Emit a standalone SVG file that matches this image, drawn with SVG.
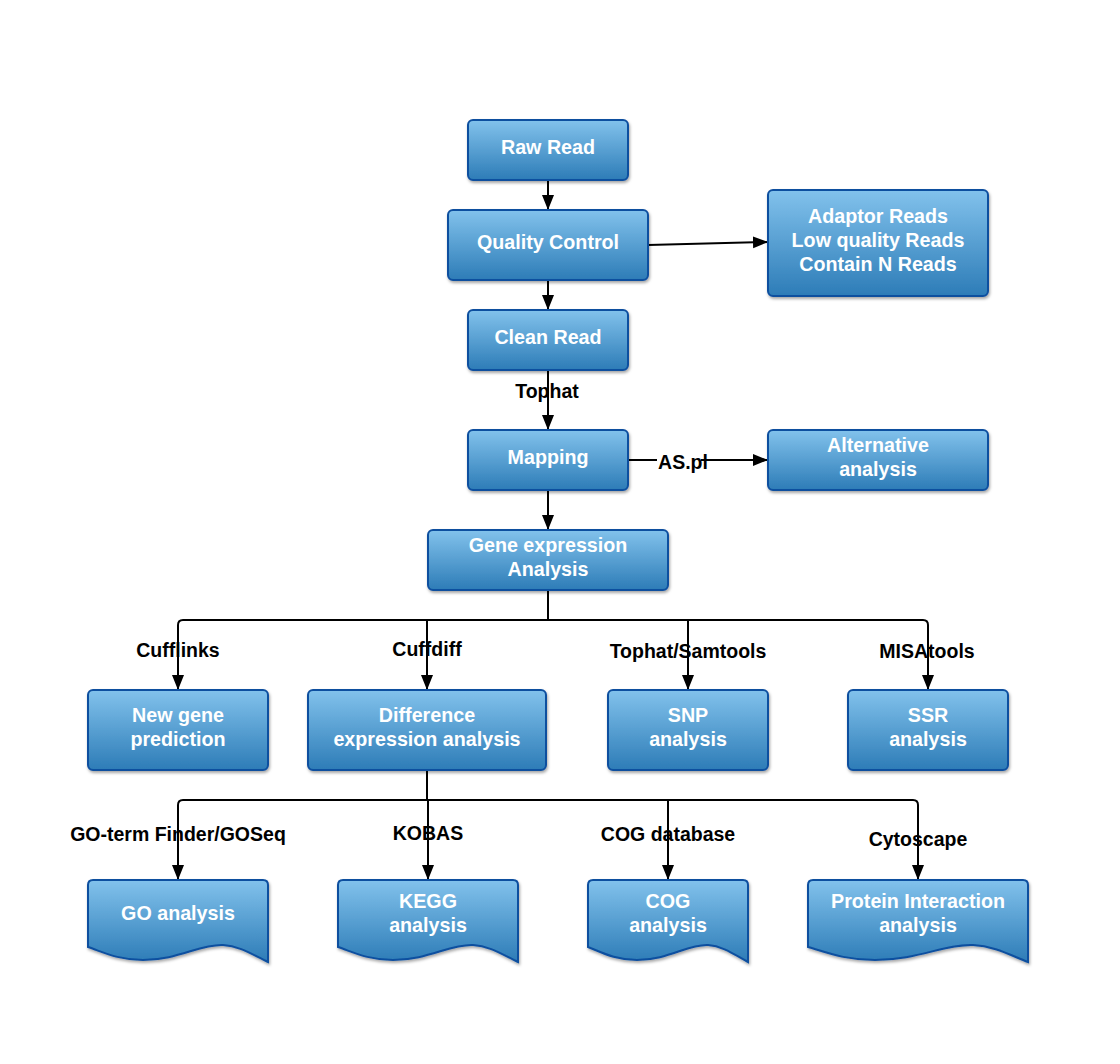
<svg xmlns="http://www.w3.org/2000/svg" width="1120" height="1064" viewBox="0 0 1120 1064">
<defs>
  <linearGradient id="g" x1="0" y1="0" x2="0" y2="1">
    <stop offset="0" stop-color="#82c2ec"/>
    <stop offset="1" stop-color="#2d7cb7"/>
  </linearGradient>
  <filter id="sh" x="-10%" y="-10%" width="120%" height="130%">
    <feDropShadow dx="1" dy="2" stdDeviation="1.5" flood-color="#000" flood-opacity="0.35"/>
  </filter>
  <marker id="ar" markerUnits="userSpaceOnUse" markerWidth="16" markerHeight="14" viewBox="0 0 16 14" refX="15" refY="7" orient="auto">
    <path d="M0,1 L15,7 L0,13 Z" fill="#000"/>
  </marker>
  <style>
    .n{fill:url(#g);stroke:#0d4f9f;stroke-width:2;filter:url(#sh)}
    .t{font-family:"Liberation Sans",Arial,sans-serif;font-weight:bold;font-size:19.7px;fill:#fff;text-anchor:middle}
    .l{font-family:"Liberation Sans",Arial,sans-serif;font-weight:bold;font-size:19.5px;fill:#000;text-anchor:middle}
    .c{fill:none;stroke:#000;stroke-width:2}
    .a{marker-end:url(#ar)}
  </style>
</defs>
<rect width="1120" height="1064" fill="#fff"/>

<g id="connectors">
  <path class="c a" d="M548,180 V210"/>
  <path class="c a" d="M648,245 L768,242"/>
  <path class="c a" d="M548,280 V310"/>
  <path class="c a" d="M548,370 V430"/>
  <path class="c" d="M628,460 H657"/>
  <path class="c a" d="M701,460 H768"/>
  <path class="c a" d="M548,490 V530"/>
  <path class="c" d="M548,590 V620"/>
  <path class="c" d="M183,620 H923"/>
  <path class="c a" d="M183,620 Q178,620 178,625 V690"/>
  <path class="c a" d="M923,620 Q928,620 928,625 V690"/>
  <path class="c a" d="M427,620 V690"/>
  <path class="c a" d="M688,620 V690"/>
  <path class="c" d="M427,770 V800"/>
  <path class="c" d="M183,800 H913"/>
  <path class="c a" d="M183,800 Q178,800 178,805 V880"/>
  <path class="c a" d="M913,800 Q918,800 918,805 V880"/>
  <path class="c a" d="M428,800 V880"/>
  <path class="c a" d="M668,800 V880"/>
  <text class="l" x="547" y="398">Tophat</text>
  <text class="l" x="683" y="469">AS.pl</text>
  <text class="l" x="178" y="657">Cufflinks</text>
  <text class="l" x="427" y="656">Cuffdiff</text>
  <text class="l" x="688" y="658">Tophat/Samtools</text>
  <text class="l" x="927" y="658">MISAtools</text>
  <text class="l" x="178" y="841">GO-term Finder/GOSeq</text>
  <text class="l" x="428" y="840">KOBAS</text>
  <text class="l" x="668" y="841">COG database</text>
  <text class="l" x="918" y="846">Cytoscape</text>
</g>

<g id="raw"><rect class="n" x="468" y="120" width="160" height="60" rx="5"/><text class="t" x="548" y="154">Raw Read</text></g>
<g id="qc"><rect class="n" x="448" y="210" width="200" height="70" rx="5"/><text class="t" x="548" y="249">Quality Control</text></g>
<g id="adaptor"><rect class="n" x="768" y="190" width="220" height="106" rx="5"/><text class="t" x="878" y="223">Adaptor Reads</text><text class="t" x="878" y="247">Low quality Reads</text><text class="t" x="878" y="271">Contain N Reads</text></g>
<g id="clean"><rect class="n" x="468" y="310" width="160" height="60" rx="5"/><text class="t" x="548" y="344">Clean Read</text></g>
<g id="mapping"><rect class="n" x="468" y="430" width="160" height="60" rx="5"/><text class="t" x="548" y="464">Mapping</text></g>
<g id="alt"><rect class="n" x="768" y="430" width="220" height="60" rx="5"/><text class="t" x="878" y="452">Alternative</text><text class="t" x="878" y="476">analysis</text></g>
<g id="gene"><rect class="n" x="428" y="530" width="240" height="60" rx="5"/><text class="t" x="548" y="552">Gene expression</text><text class="t" x="548" y="576">Analysis</text></g>

<g id="newgene"><rect class="n" x="88" y="690" width="180" height="80" rx="5"/><text class="t" x="178" y="722">New gene</text><text class="t" x="178" y="746">prediction</text></g>
<g id="diff"><rect class="n" x="308" y="690" width="238" height="80" rx="5"/><text class="t" x="427" y="722">Difference</text><text class="t" x="427" y="746">expression analysis</text></g>
<g id="snp"><rect class="n" x="608" y="690" width="160" height="80" rx="5"/><text class="t" x="688" y="722">SNP</text><text class="t" x="688" y="746">analysis</text></g>
<g id="ssr"><rect class="n" x="848" y="690" width="160" height="80" rx="5"/><text class="t" x="928" y="722">SSR</text><text class="t" x="928" y="746">analysis</text></g>

<g id="go"><path class="n" d="M93,880 H263 Q268,880 268,885 V962 C253,955 240,946 223,945 C200,944 178,960 143,960 C118,960 103,952 88,947 V885 Q88,880 93,880 Z"/><text class="t" x="178" y="920">GO analysis</text></g>
<g id="kegg"><path class="n" d="M343,880 H513 Q518,880 518,885 V962 C503,955 490,946 473,945 C450,944 428,960 393,960 C368,960 353,952 338,947 V885 Q338,880 343,880 Z"/><text class="t" x="428" y="908">KEGG</text><text class="t" x="428" y="932">analysis</text></g>
<g id="cog"><path class="n" d="M593,880 H743 Q748,880 748,885 V962 C735,955 723,946 708,945 C688,944 668,960 637,960 C615,960 601,952 588,947 V885 Q588,880 593,880 Z"/><text class="t" x="668" y="908">COG</text><text class="t" x="668" y="932">analysis</text></g>
<g id="protein"><path class="n" d="M813,880 H1023 Q1028,880 1028,885 V962 C1010,955 994,946 973,945 C944,944 918,960 875,960 C844,960 826,952 808,947 V885 Q808,880 813,880 Z"/><text class="t" x="918" y="908">Protein Interaction</text><text class="t" x="918" y="932">analysis</text></g>
</svg>
